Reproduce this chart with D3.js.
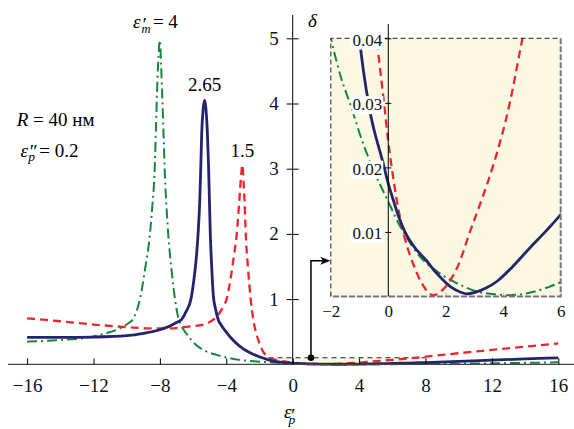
<!DOCTYPE html>
<html>
<head>
<meta charset="utf-8">
<script src="https://cdn.jsdelivr.net/npm/d3@7"></script>
<style>
body { margin: 0; background: #fff; }
svg { display: block; }
</style>
</head>
<body>
<svg width="574" height="429" font-family="'Liberation Serif', 'Times New Roman', Times, serif"></svg>
<script>
// eps_m' = 4 (green, dash-dot)
var greenX = [-16, -14, -12.5, -11.6, -11.2, -10.6, -10.2, -9.9, -9.6, -9.4, -9.2, -8.9, -8.6, -8.45, -8.33, -8.24, -8.15, -8.08, -8.0,
  -7.93, -7.85, -7.77, -7.69, -7.6, -7.5, -7.3, -7.09, -6.9, -6.69, -6.43, -6.1, -5.78, -5.3, -4.6, -3.9, -3.2, -2.5, -2.0,
  -1.65, -1.3, -0.9, -0.55, -0.25, 0, 0.25, 0.52, 0.8, 1.1, 1.6, 2.15, 2.6, 3.08, 3.6, 4.2, 4.7, 5.2, 5.6, 6, 7, 8, 10, 12, 14, 16];
var greenY = [0.347, 0.372, 0.405, 0.45, 0.48, 0.53, 0.58, 0.63, 0.70, 0.82, 1.0, 1.45, 2.0, 2.45, 2.9, 3.6, 4.35, 4.75, 4.97,
  4.6, 4.05, 3.45, 2.85, 2.4, 2.0, 1.45, 1.0, 0.72, 0.58, 0.48, 0.37, 0.29, 0.21, 0.145, 0.10, 0.068, 0.05, 0.040,
  0.034, 0.0295, 0.024, 0.020, 0.017, 0.0147, 0.0123, 0.010, 0.008, 0.0062, 0.0042, 0.0026, 0.0016, 0.0008, 0.0004, 0.0002, 0.0004, 0.0009, 0.0015, 0.0022, 0.004, 0.006, 0.010, 0.015, 0.022, 0.030];

// eps_m' = 2.65 (navy, solid)
var navyX = [-16, -14, -12, -10, -9, -8, -7.5, -7, -6.69, -6.4, -6.13, -5.95, -5.8, -5.7, -5.6, -5.54, -5.48, -5.4, -5.3,
  -5.22, -5.14, -5.07, -5.02, -4.97, -4.88, -4.78, -4.65, -4.48, -4.3, -4.08, -3.7, -3.2, -2.6, -2, -1.5, -1, -0.65, -0.2,
  0, 0.17, 0.35, 0.58, 0.9, 1.34, 1.6, 1.9, 2.2, 2.5, 2.75, 3, 3.4, 3.8, 4.3, 4.9, 5.5, 6, 7, 8, 10, 12, 14, 16];
var navyY = [0.414, 0.412, 0.418, 0.44, 0.475, 0.53, 0.575, 0.64, 0.69, 0.82, 1.0, 1.3, 1.65, 2.0, 2.5, 3.0, 3.55, 3.9, 4.05,
  3.9, 3.55, 3.05, 2.55, 2.05, 1.5, 1.05, 0.85, 0.68, 0.6, 0.52, 0.4, 0.28, 0.18, 0.115, 0.072, 0.040, 0.029, 0.021,
  0.0175, 0.015, 0.0125, 0.010, 0.0077, 0.0055, 0.0040, 0.0026, 0.0014, 0.0007, 0.0004, 0.0006, 0.0013, 0.0024, 0.0045, 0.0074, 0.0102, 0.0127, 0.019, 0.027, 0.045, 0.064, 0.083, 0.100];

// eps_m' = 1.5 (red, dashed)
var redX = [-16, -14, -12, -10, -8.5, -7.5, -6.4, -5.4, -5, -4.7, -4.4, -4.15, -3.98, -3.75, -3.55, -3.37, -3.22, -3.12, -3.03,
  -2.95, -2.9, -2.83, -2.7, -2.53, -2.37, -2.17, -1.97, -1.77, -1.5, -1.2, -0.8, -0.5, -0.33, -0.15, 0, 0.12, 0.3, 0.52,
  0.87, 1.2, 1.57, 1.95, 2.44, 2.84, 3.25, 3.63, 4.23, 4.67, 5.3, 6, 7, 8, 10, 12, 14, 16];
var redY = [0.705, 0.66, 0.61, 0.57, 0.55, 0.55, 0.575, 0.61, 0.65, 0.7, 0.79, 0.9, 1.0, 1.3, 1.65, 2.0, 2.5, 2.85, 3.06,
  2.75, 2.5, 2.0, 1.5, 1.0, 0.68, 0.45, 0.3, 0.19, 0.12, 0.08, 0.056, 0.044, 0.037, 0.030, 0.024, 0.020, 0.0148, 0.010,
  0.0050, 0.0018, 0.0002, 0.0013, 0.0049, 0.010, 0.015, 0.020, 0.030, 0.040, 0.053, 0.068, 0.09, 0.117, 0.17, 0.22, 0.27, 0.32];

var xTicks = [-16, -12, -8, -4, 0, 4, 8, 12, 16];
var yTicks = [1, 2, 3, 4, 5];
var insetXTicks = [-2, 0, 2, 4, 6];
var insetYTicks = [0.01, 0.02, 0.03, 0.04];

var svg = d3.select("svg");
var x = d3.scaleLinear().domain([-16, 16]).range([27.1, 558.3]),
    y = d3.scaleLinear().domain([0, 5]).range([364.3, 38.3]);
var xi = d3.scaleLinear().domain([-2, 6]).range([330.8, 560.7]),
    yi = d3.scaleLinear().domain([0, 0.04]).range([296.5, 38.3]);

var minus = d => d < 0 ? "\u2212" + Math.abs(d) : "" + d;

var series = [
  {xs: greenX, ys: greenY, color: "#17853c", dash: "10,4,2,4", w: 2},
  {xs: redX, ys: redY, color: "#f2242b", dash: "8,5", w: 2.3},
  {xs: navyX, ys: navyY, color: "#24246e", dash: null, w: 2.8}
];
series.forEach(s => s.pts = s.xs.map((v, i) => [v, s.ys[i]]));

// small highlighted region on main plot
svg.append("rect")
    .attr("x", x(-2)).attr("y", y(0.1))
    .attr("width", x(8) - x(-2)).attr("height", y(0) - y(0.1))
    .attr("fill", "#fbf9e3");
svg.append("line")
    .attr("x1", x(-2)).attr("x2", x(8))
    .attr("y1", y(0.1)).attr("y2", y(0.1))
    .attr("stroke", "#222").attr("stroke-dasharray", "5,4");

// main curves
var line = d3.line().x(d => x(d[0])).y(d => y(d[1])).curve(d3.curveMonotoneX);
series.forEach(s => {
  svg.append("path")
      .attr("d", line(s.pts))
      .attr("fill", "none")
      .attr("stroke", s.color)
      .attr("stroke-width", s.w)
      .attr("stroke-dasharray", s.dash);
});

// main x axis
svg.append("line")
    .attr("x1", 8).attr("x2", 574)
    .attr("y1", y(0)).attr("y2", y(0))
    .attr("stroke", "#444").attr("stroke-width", 1.3);
var gx = svg.append("g")
    .attr("transform", "translate(0," + y(0) + ")")
    .call(d3.axisBottom(x).tickValues(xTicks).tickFormat(minus).tickSize(-6).tickPadding(14))
    .attr("font-family", null).attr("font-size", 19);
gx.select(".domain").remove();
gx.selectAll("text").attr("fill", "#111");

// main y axis
var gy = svg.append("g")
    .attr("transform", "translate(" + x(0) + ",0)")
    .call(d3.axisLeft(y).tickValues(yTicks).tickFormat(d3.format("d")).tickSize(6).tickPadding(8))
    .attr("font-family", null).attr("font-size", 19);
gy.select(".domain").remove();
gy.selectAll(".tick line").attr("x1", -6).attr("x2", 6);
gy.selectAll("text").attr("fill", "#111");
svg.append("line")
    .attr("x1", x(0)).attr("x2", x(0))
    .attr("y1", 15).attr("y2", y(0))
    .attr("stroke", "#000");

// axis titles
svg.append("text").attr("x", 308).attr("y", 26.5)
    .attr("font-size", 19).attr("font-style", "italic").text("\u03b4");
var xt = svg.append("text").attr("font-size", 19).attr("font-style", "italic");
xt.append("tspan").attr("x", 284).attr("y", 418.3).text("\u03b5");
xt.append("tspan").attr("x", 290).attr("y", 421.5).text("\u2032");
xt.append("tspan").attr("x", 288.5).attr("y", 424.3).attr("font-size", 13.5).text("p");

// peak annotations
var gx0 = x(-8.0), gy0 = y(4.97);
var gt = svg.append("text").attr("font-size", 19);
gt.append("tspan").attr("x", gx0 - 27).attr("y", gy0 - 12).attr("font-style", "italic").text("\u03b5");
gt.append("tspan").attr("x", gx0 - 18.5).attr("y", gy0 - 8.8).attr("font-style", "italic").text("\u2032");
gt.append("tspan").attr("x", gx0 - 18.5).attr("y", gy0 - 7).attr("font-size", 12.5).attr("font-style", "italic").text("m");
gt.append("tspan").attr("x", gx0 - 7).attr("y", gy0 - 12).text("= 4");
svg.append("text").attr("x", x(-5.3)).attr("y", y(4.05) - 9)
    .attr("font-size", 19).attr("text-anchor", "middle").text("2.65");
svg.append("text").attr("x", x(-3.03)).attr("y", y(3.06) - 8)
    .attr("font-size", 19).attr("text-anchor", "middle").text("1.5");

// parameters
var rt = svg.append("text").attr("x", 16.7).attr("y", 126).attr("font-size", 19);
rt.append("tspan").attr("font-style", "italic").text("R");
rt.append("tspan").text(" = 40 \u043d\u043c");
var et = svg.append("text").attr("font-size", 19);
et.append("tspan").attr("x", 20.5).attr("y", 156.7).attr("font-style", "italic").text("\u03b5");
et.append("tspan").attr("x", 28.5).attr("y", 157.5).attr("font-style", "italic").text("\u2033");
et.append("tspan").attr("x", 28.3).attr("y", 160.5).attr("font-size", 13.5).attr("font-style", "italic").text("p");
et.append("tspan").attr("x", 39.3).attr("y", 156.7).text("= 0.2");

// arrow from highlighted region to inset
var ax = x(1.1), ay0 = y(0.1), ay1 = y(1.59);
svg.append("circle").attr("cx", ax).attr("cy", ay0).attr("r", 3.3).attr("fill", "#000");
svg.append("path")
    .attr("d", "M" + ax + "," + ay0 + "V" + ay1 + "H" + (xi(-2) - 7))
    .attr("fill", "none").attr("stroke", "#000").attr("stroke-width", 1.5);
var tipX = xi(-2) - 0.5;
svg.append("path")
    .attr("d", "M" + tipX + "," + ay1 + "L" + (tipX - 10) + "," + (ay1 - 4) + "L" + (tipX - 7.5) + "," + ay1 + "L" + (tipX - 10) + "," + (ay1 + 4) + "Z")
    .attr("fill", "#000");

// inset
var inset = svg.append("g");
inset.append("rect")
    .attr("x", xi(-2)).attr("y", yi(0.04))
    .attr("width", xi(6) - xi(-2)).attr("height", yi(0) - yi(0.04))
    .attr("fill", "#fbf9e3");
svg.append("clipPath").attr("id", "clipInset")
  .append("rect")
    .attr("x", xi(-2)).attr("y", yi(0.04))
    .attr("width", xi(6) - xi(-2)).attr("height", yi(0) - yi(0.04));

var ixg = inset.append("g")
    .attr("transform", "translate(0," + yi(0) + ")")
    .call(d3.axisBottom(xi).tickValues(insetXTicks).tickFormat(minus).tickSize(-4).tickPadding(8.5))
    .attr("font-family", null).attr("font-size", 17);
ixg.select(".domain").remove();
ixg.selectAll(".tick line").attr("stroke", "#bbb");
ixg.selectAll("text").attr("fill", "#111");

var iline = d3.line().x(d => xi(d[0])).y(d => yi(d[1])).curve(d3.curveMonotoneX);
var curves = inset.append("g").attr("clip-path", "url(#clipInset)");
series.forEach(s => {
  curves.append("path")
      .attr("d", iline(s.pts.filter(p => p[0] >= -3 && p[0] <= 7)))
      .attr("fill", "none")
      .attr("stroke", s.color)
      .attr("stroke-width", s.w)
      .attr("stroke-dasharray", s.dash);
});

// inset border
inset.append("path")
    .attr("d", "M" + xi(-2) + "," + yi(0) + "V" + yi(0.04) + "H" + xi(6))
    .attr("fill", "none").attr("stroke", "#222").attr("stroke-dasharray", "5,3");
inset.append("path")
    .attr("d", "M" + xi(6) + "," + yi(0.04) + "V" + yi(0) + "H" + xi(-2))
    .attr("fill", "none").attr("stroke", "#777").attr("stroke-width", 2).attr("stroke-dasharray", "6,2");

// inset y axis
inset.append("line")
    .attr("x1", xi(0)).attr("x2", xi(0))
    .attr("y1", 24).attr("y2", yi(0))
    .attr("stroke", "#000");
var iyg = inset.append("g")
    .attr("transform", "translate(" + xi(0) + ",0)")
    .call(d3.axisLeft(yi).tickValues(insetYTicks).tickFormat(d3.format(".2f")).tickSize(3).tickPadding(3))
    .attr("font-family", null).attr("font-size", 17);
iyg.select(".domain").remove();
iyg.selectAll(".tick line").attr("x1", -3).attr("x2", 3);
iyg.selectAll("text").attr("fill", "#111").attr("dy", "0.4em");
iyg.selectAll(".tick").each(function() {
  var t = d3.select(this).select("text");
  var b = t.node().getBBox();
  d3.select(this).insert("rect", "text")
      .attr("x", b.x - 1).attr("y", b.y + 1)
      .attr("width", b.width + 2).attr("height", b.height - 1)
      .attr("fill", "#fff");
});
</script>
</body>
</html>
